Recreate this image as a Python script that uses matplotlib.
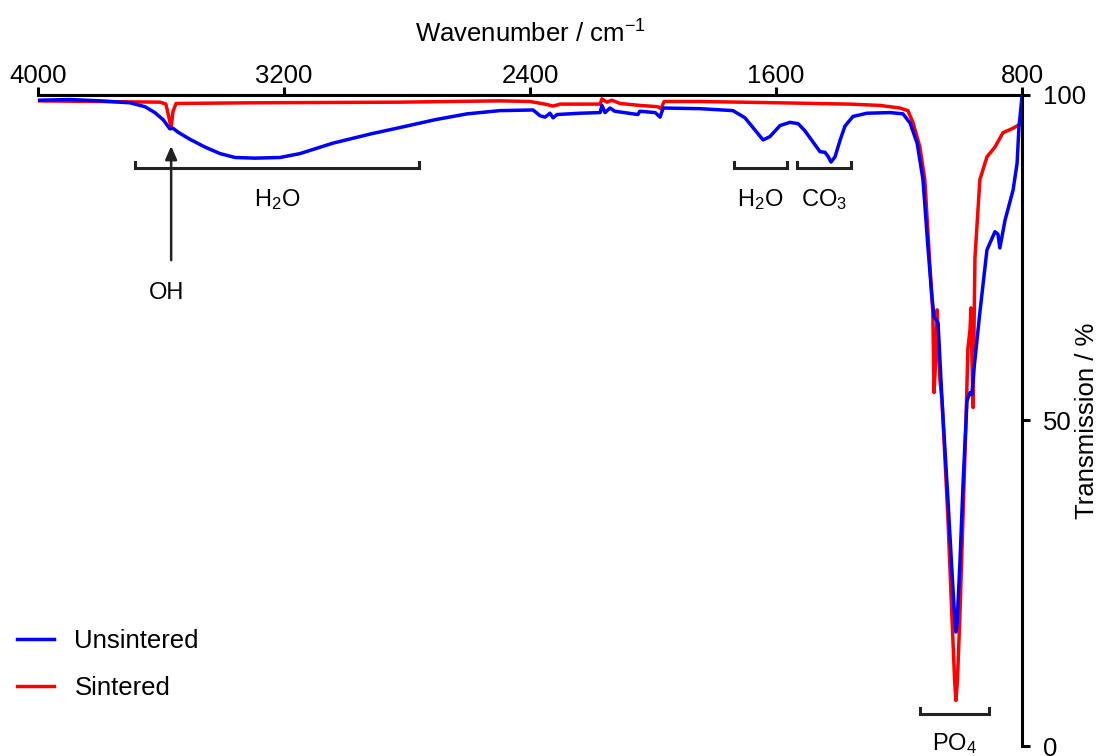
import numpy as np
import matplotlib.pyplot as plt

plt.rcParams['font.family'] = ['Liberation Sans', 'DejaVu Sans']
plt.rcParams['mathtext.fontset'] = 'custom'
plt.rcParams['mathtext.rm'] = 'Liberation Sans'
plt.rcParams['mathtext.it'] = 'Liberation Sans:italic'

# --- FTIR spectra (wavenumber in cm-1, transmission in %) ---
wn_unsintered = [4000, 3896, 3798, 3701, 3652, 3620, 3593, 3571, 3561, 3545,
                 3506, 3457, 3408, 3359, 3294, 3213, 3148, 3041, 2920, 2823,
                 2709, 2605, 2498, 2390, 2367, 2351, 2335, 2325, 2312, 2237,
                 2172, 2166, 2156, 2140, 2124, 2049, 2043, 1993, 1977, 1967,
                 1847, 1740, 1701, 1668, 1642, 1620, 1587, 1555, 1528, 1506,
                 1480, 1457, 1441, 1431, 1421, 1408, 1392, 1376, 1350, 1304,
                 1229, 1187, 1164, 1141, 1122, 1106, 1093, 1086, 1073, 1060,
                 1041, 1028, 1018, 1015, 1011, 1002, 992, 979, 969, 963,
                 956, 937, 914, 888, 878, 872, 855, 829, 816, 810, 800]
t_unsintered = [99.2, 99.3, 99.1, 98.8, 98.2, 97.3, 96.2, 94.8, 94.9, 94.3,
                93.2, 92.0, 91.0, 90.4, 90.3, 90.4, 91.0, 92.6, 94.0, 95.0,
                96.2, 97.1, 97.6, 97.7, 96.8, 96.6, 97.2, 96.5, 97.0, 97.2,
                97.3, 98.4, 97.3, 98.0, 97.5, 97.0, 97.5, 97.3, 96.6, 98.0,
                97.9, 97.6, 96.5, 94.6, 93.1, 93.6, 95.3, 95.8, 95.6, 94.5,
                92.8, 91.3, 91.2, 90.6, 89.7, 90.5, 93.0, 95.2, 96.7, 97.2,
                97.3, 97.1, 95.7, 92.6, 87.0, 76.7, 69.0, 65.9, 65.0, 53.0,
                38.0, 27.0, 19.0, 17.5, 19.0, 28.0, 40.0, 53.0, 54.3, 54.0,
                58.0, 66.6, 76.2, 79.0, 78.6, 76.5, 80.8, 85.4, 89.5, 95.0, 99.7]

wn_sintered = [4000, 3798, 3603, 3584, 3574, 3567, 3561, 3551, 3311, 2823,
               2498, 2400, 2351, 2325, 2302, 2172, 2166, 2150, 2134, 2107,
               2043, 1984, 1974, 1964, 1847, 1587, 1360, 1262, 1197, 1171,
               1154, 1132, 1116, 1100, 1090, 1086, 1080, 1076, 1072, 1067,
               1060, 1041, 1028, 1019, 1015, 1010, 1002, 992, 982, 976,
               969, 966, 963, 959, 956, 953, 937, 914, 888, 862, 829, 800]
t_sintered = [99.1, 99.0, 98.9, 98.6, 96.5, 95.0, 97.5, 98.7, 98.8, 98.9,
              99.1, 99.0, 98.6, 98.3, 98.6, 98.6, 99.4, 98.9, 99.2, 98.7,
              98.4, 98.2, 97.9, 99.0, 99.0, 98.8, 98.6, 98.4, 98.0, 97.6,
              95.7, 92.0, 87.0, 74.2, 66.6, 54.3, 60.0, 67.0, 62.0, 56.3,
              53.0, 35.0, 20.0, 10.0, 7.0, 10.0, 20.0, 35.0, 50.0, 61.0,
              64.0, 67.3, 60.0, 52.0, 64.0, 75.0, 87.0, 90.5, 92.0, 94.2, 94.9, 95.7]

# band assignments: (label, wn start, wn end, bracket height, label height)
bands = [("H$_2$O", 3685, 2761, 88.8, 84.0),
         ("H$_2$O", 1737, 1564, 88.8, 84.0),
         ("CO$_3$", 1532, 1356, 88.8, 84.0),
         ("PO$_4$", 1132, 907, 4.9, 0.3)]

fig = plt.figure(figsize=(11.01, 7.56), dpi=100)
ax = fig.add_axes([38/1101, 10/756, 984/1101, 651/756])

ax.plot(wn_unsintered, t_unsintered, color='#0000ff', lw=2.5, label='Unsintered', zorder=3)
ax.plot(wn_sintered, t_sintered, color='#ff0000', lw=2.5, label='Sintered', zorder=2)

ax.set_xlim(4000, 800)
ax.set_ylim(0, 100)

# axes only on top and right
for side in ['left', 'bottom']:
    ax.spines[side].set_visible(False)
for side in ['top', 'right']:
    ax.spines[side].set_linewidth(2.2)
ax.xaxis.set_ticks_position('top')
ax.xaxis.set_label_position('top')
ax.yaxis.set_ticks_position('right')
ax.yaxis.set_label_position('right')
ax.set_xticks([4000, 3200, 2400, 1600, 800])
ax.set_yticks([0, 50, 100])
ax.tick_params(axis='both', direction='out', length=6, width=2.2, labelsize=18.5)
ax.tick_params(axis='x', pad=-1)
ax.tick_params(axis='y', pad=9)
ax.set_xlabel("Wavenumber / cm$^{-1}$", fontsize=18.5)
ax.set_ylabel("Transmission / %", fontsize=18.5)
ax.xaxis.set_label_coords(0.5, 1.08)
ax.yaxis.set_label_coords(1.054, 0.5)

# bracket marks for the band groups
for label, x0, x1, yb, yl in bands:
    ax.plot([x0, x0, x1, x1], [yb + 0.9, yb, yb, yb + 0.9], color='#222222',
            lw=2.2, clip_on=False, solid_joinstyle='miter')
    ax.text((x0 + x1) / 2, yl, label, ha='center', va='center', fontsize=17,
            clip_on=False)

# OH stretch arrow
ax.annotate("", xy=(3567, 92.6), xytext=(3567, 74.2),
            arrowprops=dict(arrowstyle='-|>,head_length=0.8,head_width=0.35',
                            color='#222222', lw=1.8))
ax.text(3582, 69.6, "OH", ha='center', va='center', fontsize=17)

ax.legend(loc='upper left', bbox_to_anchor=(-0.006, 0.198), bbox_transform=fig.transFigure,
          frameon=False, fontsize=18.5, handlelength=1.45, handletextpad=0.8,
          labelspacing=0.88)

fig.savefig("out.png", dpi=100)
